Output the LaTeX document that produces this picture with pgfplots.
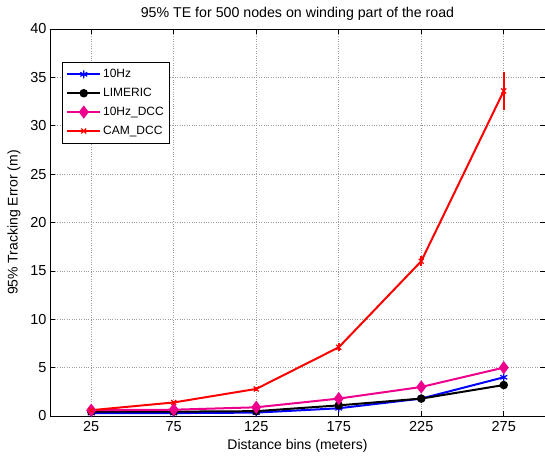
\documentclass[border=0pt]{standalone}
\usepackage{pgfplots}
\pgfplotsset{compat=1.18}
\usepackage{fontspec}
\setmainfont{Liberation Sans}
\begin{document}
\begin{tikzpicture}
\begin{axis}[
  at={(0,0)}, anchor=south west,
  scale only axis, width=495pt, height=387pt,
  xmin=0, xmax=300, ymin=0, ymax=40,
  xtick={25,75,125,175,225,275},
  ytick={0,5,10,15,20,25,30,35,40},
  tick align=inside, major tick length=5pt,
  grid=major, grid style={dotted, gray!75, line width=0.6pt},
  axis line style={line width=0.9pt},
  tick style={black, line width=0.6pt},
  /pgf/number format/assume math mode=true,
  ticklabel style={font=\fontsize{14.5}{16}\selectfont},
  xticklabel style={yshift=-2pt},
  xlabel={Distance bins (meters)},
  ylabel={95\% Tracking Error (m)},
  label style={font=\fontsize{14}{16}\selectfont},
  xlabel style={at={(axis description cs:0.5,0)}, anchor=north, yshift=-20pt},
  ylabel style={at={(axis description cs:0,0.5)}, anchor=south, rotate=0, yshift=26pt},
  title={95\% TE for 500 nodes on winding part of the road},
  title style={font=\fontsize{14.2}{16}\selectfont, at={(axis description cs:0.5,1)}, anchor=south, yshift=-0.5pt},
  legend style={at={(12pt,354pt)}, anchor=north west, font=\fontsize{12}{14}\selectfont,
    draw=black, line width=0.8pt, row sep=5pt, inner sep=4pt, inner ysep=5pt, legend cell align=left},
  legend image code/.code={\draw[#1] (0cm,0cm) -- (1.15cm,0cm); \draw[#1, mark repeat=1] plot coordinates {(0.575cm,0cm)};},
  every axis plot/.append style={line width=2pt},
]
\addplot[blue, mark=asterisk, mark size=4pt, mark options={line width=1.2pt}] coordinates {
(25,0.3) (75,0.3) (125,0.35) (175,0.8) (225,1.8) (275,4.0)};
\addlegendentry{10Hz}
\addplot[black, mark=*, mark size=3.2pt] coordinates {
(25,0.45) (75,0.45) (125,0.5) (175,1.1) (225,1.8) (275,3.2)};
\addlegendentry{LIMERIC}
\addplot[magenta, mark=diamond*, mark size=5pt] coordinates {
(25,0.6) (75,0.65) (125,0.9) (175,1.8) (225,3.0) (275,5.0)};
\addlegendentry{10Hz\_DCC}
\addplot[red, mark=x, mark size=3.5pt, mark options={line width=1.2pt},
  error bars/.cd, y dir=both, y explicit, error bar style={line width=2pt}, error mark options={mark size=0pt}]
 coordinates {
(25,0.6) +- (0,0.1) (75,1.4) +- (0,0.15) (125,2.8) +- (0,0.2) (175,7.1) +- (0,0.4) (225,16.0) +- (0,0.5) (275,33.6) +- (0,1.95)};
\addlegendentry{CAM\_DCC}
\end{axis}
\pgfresetboundingbox
\useasboundingbox (-50pt,-42pt) rectangle (495pt,416pt);
\end{tikzpicture}
\end{document}
